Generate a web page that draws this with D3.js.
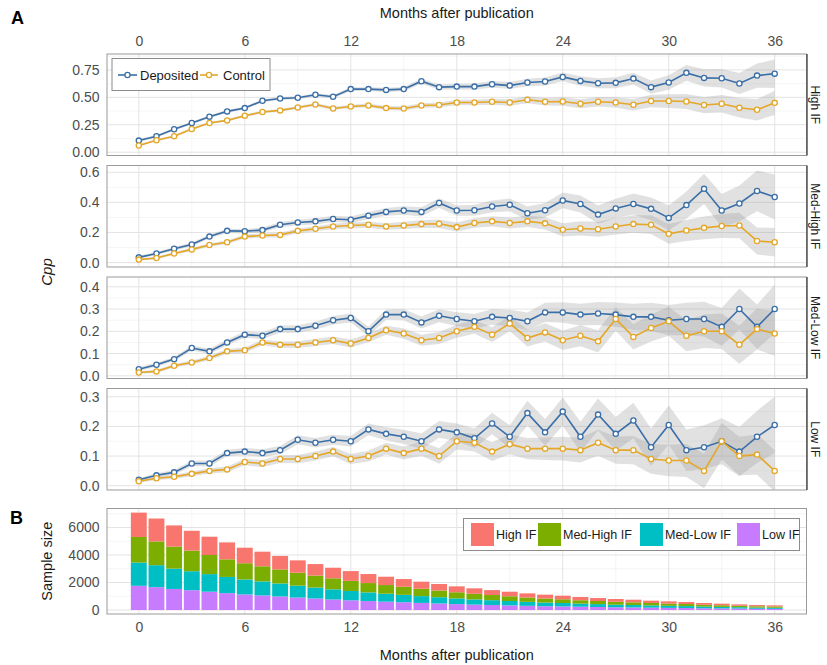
<!DOCTYPE html>
<html><head><meta charset="utf-8">
<script src="https://cdn.jsdelivr.net/npm/d3@7"></script>
<style>body{margin:0;background:#fff}svg{display:block;font-family:"Liberation Sans",Arial,sans-serif}</style>
</head><body><svg id="c" width="827" height="665"></svg>
<script>
// ---------- DATA ----------
const months = d3.range(0, 37);
const panelNames = ["High IF", "Med-High IF", "Med-Low IF", "Low IF"];
const xTicks = [0, 6, 12, 18, 24, 30, 36];
const yTicksList = [[0, 0.25, 0.5, 0.75], [0, 0.2, 0.4, 0.6], [0, 0.1, 0.2, 0.3, 0.4], [0, 0.1, 0.2, 0.3]];
const barTicks = [0, 2000, 4000, 6000];

const depHigh = [0.106,0.145,0.209,0.266,0.324,0.372,0.402,0.469,0.490,0.496,0.523,0.505,0.575,0.575,0.568,0.575,0.647,0.593,0.598,0.598,0.620,0.607,0.635,0.644,0.686,0.650,0.629,0.632,0.671,0.593,0.635,0.723,0.677,0.674,0.626,0.698,0.716];
const ctlHigh = [0.061,0.109,0.145,0.212,0.266,0.290,0.333,0.366,0.381,0.408,0.435,0.399,0.417,0.426,0.402,0.399,0.426,0.430,0.453,0.453,0.460,0.453,0.478,0.460,0.462,0.441,0.460,0.453,0.432,0.466,0.466,0.462,0.430,0.441,0.405,0.387,0.450];
const depMedHigh = [0.035,0.061,0.092,0.121,0.173,0.211,0.209,0.216,0.252,0.267,0.274,0.290,0.285,0.312,0.337,0.346,0.337,0.396,0.346,0.348,0.373,0.384,0.328,0.348,0.413,0.389,0.319,0.360,0.389,0.357,0.297,0.382,0.490,0.346,0.393,0.476,0.436];
const ctlMedHigh = [0.020,0.031,0.061,0.088,0.117,0.135,0.173,0.180,0.184,0.211,0.225,0.240,0.247,0.252,0.240,0.247,0.256,0.258,0.236,0.263,0.274,0.263,0.274,0.261,0.218,0.227,0.222,0.240,0.256,0.252,0.191,0.213,0.231,0.243,0.247,0.144,0.135];
const depMedLow = [0.030,0.050,0.075,0.125,0.110,0.150,0.185,0.180,0.210,0.210,0.225,0.250,0.260,0.200,0.275,0.275,0.240,0.270,0.255,0.245,0.265,0.260,0.245,0.285,0.285,0.275,0.280,0.275,0.265,0.265,0.250,0.255,0.255,0.220,0.300,0.220,0.300];
const ctlMedLow = [0.015,0.020,0.045,0.060,0.080,0.110,0.115,0.150,0.140,0.140,0.150,0.160,0.145,0.170,0.205,0.190,0.160,0.170,0.200,0.220,0.185,0.235,0.170,0.195,0.160,0.180,0.155,0.255,0.175,0.215,0.245,0.180,0.200,0.200,0.140,0.210,0.190];
const depLow = [0.020,0.035,0.045,0.075,0.075,0.110,0.115,0.110,0.120,0.155,0.145,0.155,0.150,0.190,0.175,0.165,0.150,0.190,0.180,0.160,0.210,0.165,0.245,0.180,0.250,0.165,0.240,0.175,0.220,0.130,0.205,0.120,0.130,0.150,0.115,0.165,0.205];
const ctlLow = [0.015,0.025,0.030,0.040,0.050,0.055,0.080,0.075,0.090,0.090,0.100,0.115,0.090,0.100,0.125,0.110,0.125,0.100,0.150,0.145,0.115,0.140,0.125,0.125,0.125,0.120,0.145,0.120,0.120,0.090,0.085,0.085,0.050,0.150,0.100,0.105,0.050];

// ribbon half-widths (confidence band)
const hwDepHigh = [0.012,0.012,0.012,0.012,0.012,0.012,0.013,0.013,0.014,0.014,0.015,0.016,0.017,0.018,0.019,0.02,0.022,0.024,0.026,0.028,0.03,0.032,0.034,0.037,0.04,0.043,0.046,0.05,0.054,0.06,0.066,0.072,0.078,0.085,0.095,0.11,0.13];
const hwCtlHigh = [0.01,0.01,0.01,0.01,0.01,0.011,0.011,0.012,0.012,0.013,0.014,0.015,0.016,0.017,0.018,0.019,0.02,0.022,0.024,0.026,0.028,0.03,0.032,0.035,0.038,0.041,0.044,0.048,0.052,0.057,0.062,0.068,0.074,0.08,0.088,0.097,0.11];
const hwDepMedHigh = [0.01,0.01,0.011,0.012,0.013,0.014,0.015,0.016,0.017,0.018,0.02,0.021,0.022,0.024,0.026,0.028,0.03,0.032,0.034,0.036,0.039,0.042,0.045,0.048,0.052,0.056,0.06,0.065,0.07,0.076,0.083,0.09,0.1,0.11,0.12,0.135,0.15];
const hwCtlMedHigh = [0.008,0.008,0.009,0.01,0.011,0.012,0.013,0.014,0.015,0.016,0.017,0.018,0.019,0.02,0.022,0.024,0.026,0.028,0.03,0.032,0.034,0.036,0.038,0.041,0.044,0.047,0.05,0.054,0.058,0.062,0.066,0.07,0.075,0.08,0.085,0.09,0.095];
const hwDepMedLow = [0.008,0.009,0.01,0.011,0.012,0.013,0.014,0.015,0.016,0.017,0.018,0.019,0.02,0.021,0.023,0.025,0.027,0.029,0.031,0.033,0.035,0.037,0.04,0.043,0.046,0.049,0.052,0.055,0.059,0.063,0.068,0.073,0.078,0.085,0.092,0.1,0.11];
const hwCtlMedLow = [0.006,0.007,0.008,0.009,0.01,0.011,0.012,0.013,0.014,0.015,0.016,0.017,0.018,0.019,0.021,0.023,0.025,0.027,0.029,0.031,0.033,0.035,0.038,0.041,0.044,0.047,0.05,0.053,0.057,0.061,0.065,0.07,0.075,0.08,0.086,0.092,0.1];
const hwDepLow = [0.006,0.007,0.008,0.009,0.01,0.011,0.012,0.013,0.014,0.015,0.016,0.017,0.018,0.02,0.022,0.024,0.026,0.028,0.03,0.033,0.036,0.039,0.042,0.045,0.048,0.051,0.054,0.057,0.06,0.063,0.066,0.07,0.074,0.078,0.083,0.088,0.095];
const hwCtlLow = [0.005,0.006,0.007,0.008,0.009,0.01,0.011,0.012,0.013,0.014,0.015,0.016,0.017,0.018,0.02,0.022,0.024,0.026,0.028,0.03,0.032,0.034,0.036,0.038,0.04,0.042,0.044,0.046,0.048,0.05,0.053,0.056,0.059,0.062,0.065,0.068,0.07];

// sample sizes per month
const nHigh = [1770,1660,1540,1440,1330,1230,1130,1060,980,900,835,770,710,655,605,560,515,470,430,395,360,330,300,280,260,235,215,200,190,170,160,145,130,115,100,90,85];
const nMedHigh = [1860,1730,1600,1500,1390,1280,1180,1100,1020,940,870,800,735,680,630,585,535,490,445,410,375,345,315,290,270,245,225,210,195,175,165,150,130,120,105,95,90];
const nMedLow = [1690,1600,1480,1380,1280,1180,1090,1020,945,865,800,740,680,630,580,540,495,455,415,380,350,320,290,270,250,225,210,190,180,165,150,140,125,110,100,85,80];
const nLow = [1760,1660,1530,1440,1330,1225,1130,1060,985,905,835,765,705,650,605,565,515,475,430,390,365,335,305,275,260,240,220,200,185,170,155,145,125,115,105,90,85];

const seriesNames = ["Deposited", "Control"];

// ---------- LAYOUT / STYLE ----------
const colDep = "#3a6fa7", colCtl = "#e5a728";
const barColors = ["#F8766D", "#7CAE00", "#00BFC4", "#C77CFF"];
const L = 107, R = 806.5;
const panelTops = [54, 165.5, 277, 388.5], panelH = 101.5;
const yDomains = [[-0.03, 0.895], [-0.029, 0.645], [-0.012, 0.444], [-0.0145, 0.328]];
const yFormats = [d3.format(".2f"), d3.format(".1f"), d3.format(".1f"), d3.format(".1f")];
const panels = [
  {dep: depHigh, ctl: ctlHigh, hd: hwDepHigh, hc: hwCtlHigh},
  {dep: depMedHigh, ctl: ctlMedHigh, hd: hwDepMedHigh, hc: hwCtlMedHigh},
  {dep: depMedLow, ctl: ctlMedLow, hd: hwDepMedLow, hc: hwCtlMedLow},
  {dep: depLow, ctl: ctlLow, hd: hwDepLow, hc: hwCtlLow}
];

const svg = d3.select("#c");
svg.append("rect").attr("width", 827).attr("height", 665).attr("fill", "#fff");
const x = d3.scaleLinear().domain([-1.8, 37.8]).range([L, R]);
const minorX = [3, 9, 15, 21, 27, 33];
const textCol = "#4d4d4d";

function styleAxis(g, size) {
  g.select(".domain").remove();
  g.selectAll("text").attr("fill", textCol).style("font-size", size + "px")
    .style("font-family", "'Liberation Sans',Arial,sans-serif");
}

panels.forEach((p, i) => {
  const top = panelTops[i], bot = top + panelH;
  const y = d3.scaleLinear().domain(yDomains[i]).range([bot, top]);
  const g = svg.append("g");
  const yt = yTicksList[i];
  const step = yt[1] - yt[0];
  const minorY = yt.map(v => v + step / 2).filter(v => y(v) > top);
  const clipId = "clip" + i;
  svg.append("clipPath").attr("id", clipId).append("rect").attr("x", L).attr("y", top).attr("width", R - L).attr("height", panelH);
  // grid
  g.selectAll(".mx").data(minorX).join("line").attr("x1", d => x(d)).attr("x2", d => x(d)).attr("y1", top).attr("y2", bot).attr("stroke", "#f2f2f2").attr("stroke-width", 0.8);
  g.selectAll(".my").data(minorY).join("line").attr("y1", d => y(d)).attr("y2", d => y(d)).attr("x1", L).attr("x2", R).attr("stroke", "#f2f2f2").attr("stroke-width", 0.8);
  g.selectAll(".gx").data(xTicks).join("line").attr("x1", d => x(d)).attr("x2", d => x(d)).attr("y1", top).attr("y2", bot).attr("stroke", "#e3e3e3").attr("stroke-width", 1);
  g.selectAll(".gy").data(yt).join("line").attr("y1", d => y(d)).attr("y2", d => y(d)).attr("x1", L).attr("x2", R).attr("stroke", "#e3e3e3").attr("stroke-width", 1);
  const cg = g.append("g").attr("clip-path", `url(#${clipId})`);
  // ribbons
  [[p.dep, p.hd], [p.ctl, p.hc]].forEach(([v, h]) => {
    const area = d3.area().x((d, k) => x(months[k])).y0((d, k) => y(v[k] - h[k])).y1((d, k) => y(v[k] + h[k]));
    cg.append("path").datum(v).attr("d", area).attr("fill", "#9a9a9a").attr("fill-opacity", 0.3);
  });
  // lines & points
  [[p.dep, colDep], [p.ctl, colCtl]].forEach(([v, c]) => {
    const line = d3.line().x((d, k) => x(months[k])).y(d => y(d));
    cg.append("path").datum(v).attr("d", line).attr("fill", "none").attr("stroke", c).attr("stroke-width", 1.6);
    cg.selectAll(null).data(v).join("circle").attr("cx", (d, k) => x(months[k])).attr("cy", d => y(d)).attr("r", 2.6)
      .attr("fill", "#fff").attr("stroke", c).attr("stroke-width", 1.3);
  });
  // border
  g.append("rect").attr("x", L).attr("y", top).attr("width", R - L).attr("height", panelH).attr("fill", "none").attr("stroke", "#9a9a9a").attr("stroke-width", 1);
  g.append("line").attr("x1", R + 0.5).attr("x2", R + 0.5).attr("y1", top).attr("y2", bot).attr("stroke", "#555").attr("stroke-width", 1.5);
  g.append("text").attr("transform", `translate(815,${(top + bot) / 2}) rotate(90)`).attr("text-anchor", "middle").attr("dominant-baseline", "central")
    .attr("fill", "#1a1a1a").style("font-size", "12px").text(panelNames[i]);
  // y axis
  const ya = g.append("g").attr("transform", `translate(${L},0)`).call(d3.axisLeft(y).tickValues(yt).tickFormat(yFormats[i]).tickSize(0).tickPadding(7.5));
  styleAxis(ya, 14);
  if (i === 0) {
    const xa = g.append("g").attr("transform", `translate(0,${top})`).call(d3.axisTop(x).tickValues(xTicks).tickSize(0).tickPadding(8));
    styleAxis(xa, 14);
  }
});

// legend A
const lg = svg.append("g");
lg.append("rect").attr("x", 112).attr("y", 58.5).attr("width", 158).attr("height", 32).attr("fill", "#fff").attr("stroke", "#8c8c8c").attr("stroke-width", 1);
const legKeys = [{x0: 118, x1: 137, tx: 140, c: colDep}, {x0: 200, x1: 218, tx: 223, c: colCtl}];
legKeys.forEach((k, j) => {
  lg.append("line").attr("x1", k.x0).attr("x2", k.x1).attr("y1", 75).attr("y2", 75).attr("stroke", k.c).attr("stroke-width", 1.6);
  lg.append("circle").attr("cx", (k.x0 + k.x1) / 2).attr("cy", 75).attr("r", 2.6).attr("fill", "#fff").attr("stroke", k.c).attr("stroke-width", 1.3);
  lg.append("text").attr("x", k.tx).attr("y", 80).attr("fill", "#1a1a1a").style("font-size", "13px").text(seriesNames[j]);
});

// ---------- Panel B ----------
const bTop = 508.5, bBot = 614;
const yb = d3.scaleLinear().domain([-290, 7380]).range([bBot, bTop]);
const gb = svg.append("g");
gb.selectAll(".mx").data(minorX).join("line").attr("x1", d => x(d)).attr("x2", d => x(d)).attr("y1", bTop).attr("y2", bBot).attr("stroke", "#f2f2f2").attr("stroke-width", 0.8);
gb.selectAll(".my").data([1000, 3000, 5000, 7000]).join("line").attr("y1", d => yb(d)).attr("y2", d => yb(d)).attr("x1", L).attr("x2", R).attr("stroke", "#f2f2f2").attr("stroke-width", 0.8);
gb.selectAll(".gx").data(xTicks).join("line").attr("x1", d => x(d)).attr("x2", d => x(d)).attr("y1", bTop).attr("y2", bBot).attr("stroke", "#e3e3e3");
gb.selectAll(".gy").data(barTicks).join("line").attr("y1", d => yb(d)).attr("y2", d => yb(d)).attr("x1", L).attr("x2", R).attr("stroke", "#e3e3e3");

const barTable = months.map((m, k) => ({m, "Low IF": nLow[k], "Med-Low IF": nMedLow[k], "Med-High IF": nMedHigh[k], "High IF": nHigh[k]}));
const stackKeys = ["Low IF", "Med-Low IF", "Med-High IF", "High IF"];
const stacked = d3.stack().keys(stackKeys)(barTable);
const colorOf = {"High IF": barColors[0], "Med-High IF": barColors[1], "Med-Low IF": barColors[2], "Low IF": barColors[3]};
const bw = x(0.9) - x(0);
stacked.forEach(layer => {
  gb.append("g").selectAll("rect").data(layer).join("rect")
    .attr("x", d => x(d.data.m) - bw / 2).attr("width", bw)
    .attr("y", d => yb(d[1])).attr("height", d => yb(d[0]) - yb(d[1]))
    .attr("fill", colorOf[layer.key]);
});
gb.append("rect").attr("x", L).attr("y", bTop).attr("width", R - L).attr("height", bBot - bTop).attr("fill", "none").attr("stroke", "#9a9a9a");
const yba = gb.append("g").attr("transform", `translate(${L},0)`).call(d3.axisLeft(yb).tickValues(barTicks).tickFormat(d3.format("d")).tickSize(0).tickPadding(7.5));
styleAxis(yba, 14);
const xba = gb.append("g").attr("transform", `translate(0,${bBot})`).call(d3.axisBottom(x).tickValues(xTicks).tickSize(0).tickPadding(8.5));
styleAxis(xba, 14);

// legend B
const bl = svg.append("g");
bl.append("rect").attr("x", 463.5).attr("y", 518.5).attr("width", 336).attr("height", 32).attr("fill", "#fff").attr("stroke", "#8c8c8c");
const bLegOrder = ["High IF", "Med-High IF", "Med-Low IF", "Low IF"];
const swX = [471, 538, 640, 737], txX = [496, 563, 665, 762];
bLegOrder.forEach((k, j) => {
  bl.append("rect").attr("x", swX[j]).attr("y", 523).attr("width", 23).attr("height", 23).attr("fill", colorOf[k]);
  bl.append("text").attr("x", txX[j]).attr("y", 539).attr("fill", "#1a1a1a").style("font-size", "12.5px").text(k);
});

// titles
svg.append("text").attr("x", (L + R) / 2).attr("y", 18).attr("text-anchor", "middle").attr("fill", "#1a1a1a").style("font-size", "14.5px").text("Months after publication");
svg.append("text").attr("x", (L + R) / 2).attr("y", 660).attr("text-anchor", "middle").attr("fill", "#1a1a1a").style("font-size", "14.5px").text("Months after publication");
svg.append("text").attr("transform", `translate(52,${(panelTops[0] + panelTops[3] + panelH) / 2}) rotate(-90)`).attr("text-anchor", "middle")
  .attr("fill", "#1a1a1a").style("font-size", "15px").style("font-style", "italic").text("Cpp");
svg.append("text").attr("transform", `translate(52,${(bTop + bBot) / 2}) rotate(-90)`).attr("text-anchor", "middle")
  .attr("fill", "#1a1a1a").style("font-size", "14.5px").text("Sample size");
svg.append("text").attr("x", 11).attr("y", 24).attr("fill", "#000").style("font-size", "18px").style("font-weight", "bold").text("A");
svg.append("text").attr("x", 10).attr("y", 524).attr("fill", "#000").style("font-size", "18px").style("font-weight", "bold").text("B");
</script></body></html>
